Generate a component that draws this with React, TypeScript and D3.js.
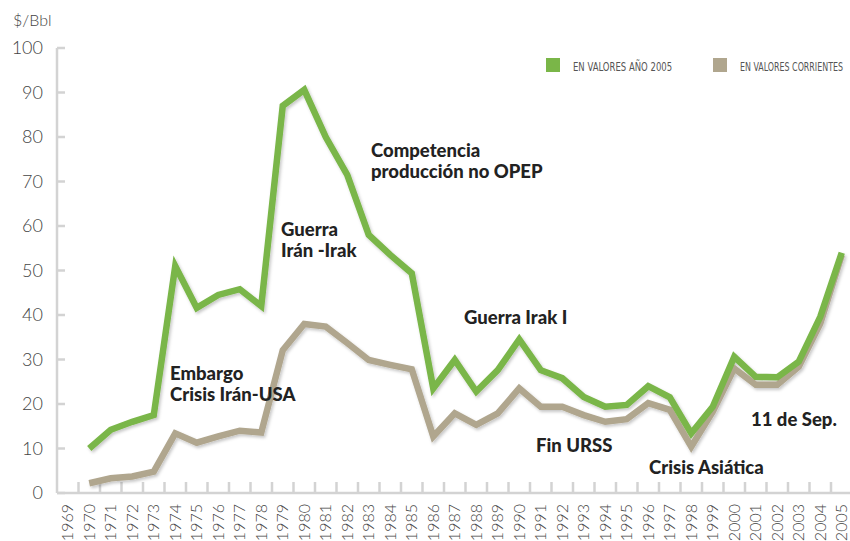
import React, { useLayoutEffect, useRef, useState } from 'react';
import * as d3 from 'd3';

const years = d3.range(1969, 2006);
const dataYears = d3.range(1970, 2006);

// $/Bbl, constant 2005 values
const real2005 = [
  10.0, 14.2, 16.0, 17.5, 51.0, 41.6, 44.5, 45.8, 42.0, 87.0,
  90.6, 80.0, 71.5, 58.0, 53.5, 49.4, 23.5, 29.9, 22.8, 27.6,
  34.5, 27.6, 25.8, 21.6, 19.4, 19.8, 24.0, 21.5, 13.4, 19.4,
  30.6, 26.1, 26.0, 29.5, 39.6, 54.0,
];

// $/Bbl, current values
const nominal = [
  2.2, 3.3, 3.7, 4.8, 13.4, 11.3, 12.7, 14.0, 13.6, 32.1,
  38.0, 37.4, 33.7, 29.9, 28.8, 27.8, 12.7, 17.9, 15.3, 17.9,
  23.5, 19.4, 19.4, 17.5, 16.0, 16.6, 20.2, 18.7, 10.4, 18.3,
  28.0, 24.3, 24.3, 28.4, 38.1, 53.5,
];

const yTicks = [0, 10, 20, 30, 40, 50, 60, 70, 80, 90, 100];

const notes = [
  { lines: ['Embargo', 'Crisis Irán-USA'], x: 170, y: 380 },
  { lines: ['Guerra', 'Irán -Irak'], x: 281, y: 236 },
  { lines: ['Competencia', 'producción no OPEP'], x: 371, y: 157 },
  { lines: ['Guerra Irak I'], x: 464, y: 324 },
  { lines: ['Fin URSS'], x: 536, y: 452 },
  { lines: ['Crisis Asiática'], x: 649, y: 474 },
  { lines: ['11 de Sep.'], x: 751, y: 426 },
];

const legend = [
  { label: 'EN VALORES AÑO 2005', color: '#7ab648', x: 546, w: 99 },
  { label: 'EN VALORES CORRIENTES', color: '#b0a68e', x: 713, w: 103 },
];

const GREEN = '#7ab648';
const GREY = '#b0a68e';
const AXIS = '#d3d3d3';

// condensed legend label: squeezed horizontally to a given width
function NarrowText({ x, y, w, children }: { x: number; y: number; w: number; children: string }) {
  const ref = useRef<SVGTextElement>(null);
  const [k, setK] = useState(0.7);
  useLayoutEffect(() => {
    if (ref.current) {
      const len = ref.current.getComputedTextLength();
      if (len > 0) setK(w / len);
    }
  }, [w, children]);
  return (
    <g transform={`translate(${x},${y}) scale(${k},1)`}>
      <text ref={ref} fontFamily='"Liberation Sans Narrow", "DejaVu Sans Condensed", sans-serif'
        fontSize={12.5} fill="#555">{children}</text>
    </g>
  );
}

export default function App() {
  const width = 850;
  const height = 541;
  const left = 57;

  const x = d3.scaleBand<number>()
    .domain(years)
    .range([left, left + 37 * 21.5]);

  const y = d3.scaleLinear()
    .domain([0, 100])
    .range([493, 48]);

  const cx = (yr: number) => (x(yr) as number) + x.bandwidth() / 2;

  const line = d3.line<number>()
    .x((_, i) => cx(dataYears[i]))
    .y(d => y(d));

  const tickFont = 'Lato, "Open Sans", sans-serif';
  const noteFont = 'Lato, "Open Sans", sans-serif';

  return (
    <svg width={width} height={height} style={{ position: 'absolute', left: 0, top: 0, background: '#fff' }}>
      <defs>
        <filter id="shadow" x="-10%" y="-10%" width="120%" height="130%">
          <feDropShadow dx="1.5" dy="2" stdDeviation="1.5" floodColor="#000" floodOpacity="0.22" />
        </filter>
      </defs>

      <text x={13} y={26} fontFamily={tickFont} fontWeight={300} fontSize={16} fill="#444">$/Bbl</text>

      {/* y axis */}
      <line x1={left} x2={left} y1={y(100)} y2={y(0)} stroke={AXIS} strokeWidth={2.5} />
      {yTicks.map(t => (
        <g key={t}>
          <line x1={left} x2={left + 8} y1={y(t)} y2={y(t)} stroke={AXIS} strokeWidth={2.5} />
          <text x={43} y={y(t)} dy="0.35em" textAnchor="end" fontFamily={tickFont} fontWeight={300}
            fontSize={18} fill="#444">{t}</text>
        </g>
      ))}

      {/* x axis */}
      <line x1={left} x2={width} y1={y(0)} y2={y(0)} stroke={AXIS} strokeWidth={2.5} />
      {years.slice(1).map(yr => (
        <line key={yr} x1={x(yr)} x2={x(yr)} y1={y(0)} y2={y(0) - 11} stroke={AXIS} strokeWidth={2.5} />
      ))}
      {years.map(yr => (
        <text key={yr} transform={`translate(${cx(yr)},504) rotate(-90)`} dy="0.35em" textAnchor="end"
          fontFamily={tickFont} fontWeight={300} fontSize={16} fill="#444">{yr}</text>
      ))}

      {/* series */}
      <g filter="url(#shadow)">
        <path d={line(nominal) || ''} fill="none" stroke={GREY} strokeWidth={6.5} strokeLinejoin="miter" />
        <path d={line(real2005) || ''} fill="none" stroke={GREEN} strokeWidth={6.5} strokeLinejoin="miter" />
      </g>

      {/* annotations */}
      {notes.map((n, i) => (
        <text key={i} x={n.x} y={n.y} fontFamily={noteFont} fontWeight={900} fontSize={18.5} fill="#222">
          {n.lines.map((l, j) => (
            <tspan key={j} x={n.x} dy={j === 0 ? 0 : 21}>{l}</tspan>
          ))}
        </text>
      ))}

      {/* legend */}
      {legend.map(l => (
        <g key={l.label}>
          <rect x={l.x} y={58} width={14} height={14} fill={l.color} />
          <NarrowText x={l.x + 27} y={71} w={l.w}>{l.label}</NarrowText>
        </g>
      ))}
    </svg>
  );
}
